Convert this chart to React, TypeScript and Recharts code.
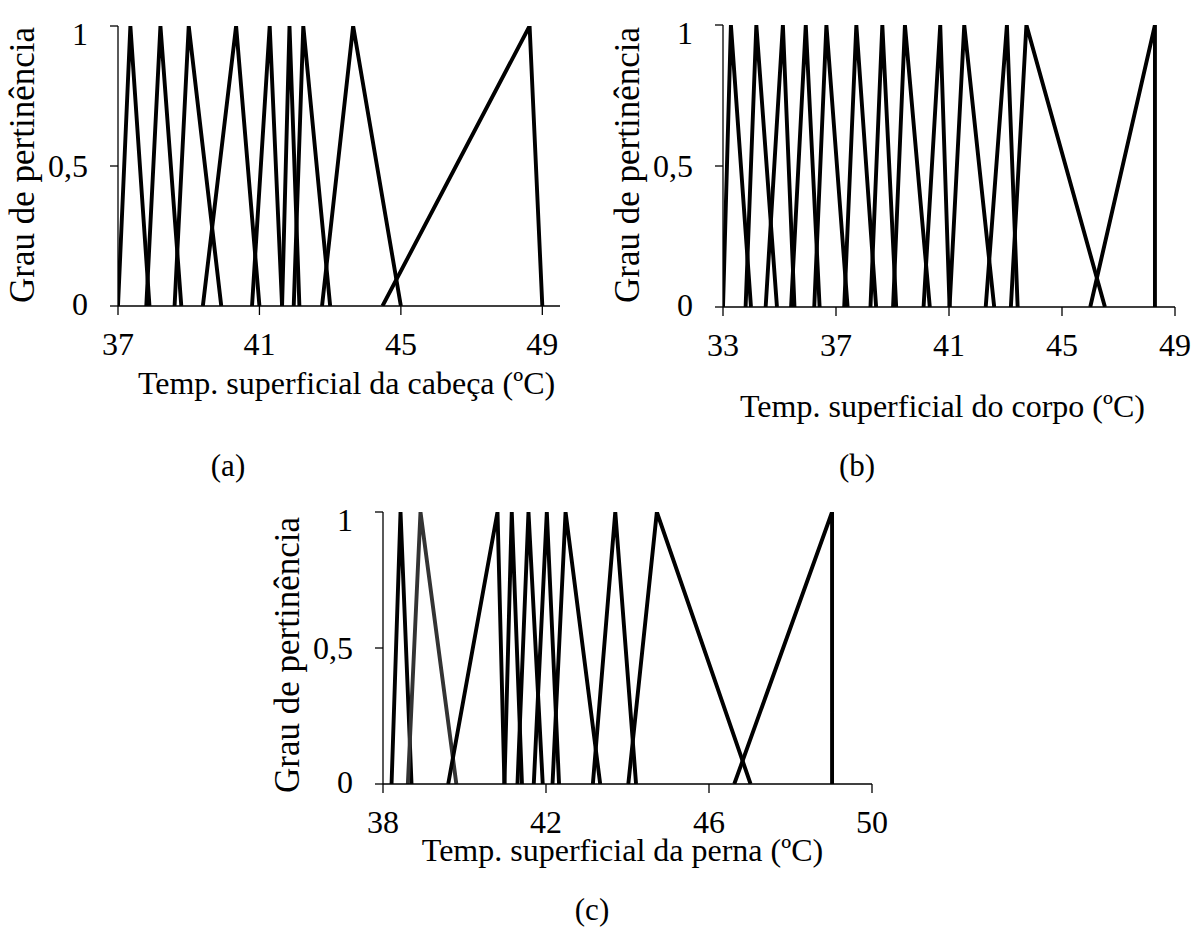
import React from 'react';
import { LineChart, Line, XAxis, YAxis } from 'recharts';

// each set is a triangle: [left foot, peak, right foot] in °C
const HEAD_TICKS = [37, 41, 45, 49];
const HEAD_SETS = [
    [37.0, 37.35, 37.89],
    [37.8, 38.2, 38.79],
    [38.6, 39.0, 39.92],
    [39.4, 40.34, 41.0],
    [40.79, 41.29, 41.64],
    [41.64, 41.85, 42.13],
    [41.97, 42.24, 43.0],
    [42.77, 43.65, 45.0],
    [44.48, 48.64, 49.0],
];

const BODY_TICKS = [33, 37, 41, 45, 49];
const BODY_SETS = [
    [33.0, 33.28, 33.99],
    [33.8, 34.18, 34.91],
    [34.51, 35.12, 35.53],
    [35.41, 35.93, 36.42],
    [36.23, 36.66, 37.41],
    [37.29, 37.72, 38.42],
    [38.22, 38.64, 39.13],
    [39.02, 39.44, 40.32],
    [40.1, 40.69, 41.02],
    [41.02, 41.54, 42.6],
    [42.3, 43.05, 43.43],
    [43.19, 43.74, 46.52],
    [46.0, 48.29, 48.29],
];

const LEG_TICKS = [38, 42, 46, 50];
const LEG_SETS = [
    [38.21, 38.43, 38.7],
    [38.61, 38.92, 39.8],
    [39.6, 40.81, 40.98],
    [40.98, 41.16, 41.41],
    [41.3, 41.57, 41.92],
    [41.7, 42.02, 42.32],
    [42.16, 42.48, 43.33],
    [43.15, 43.7, 44.21],
    [44.02, 44.72, 47.02],
    [46.62, 49.02, 49.02],
];

const Y_TICKS = [0, 0.5, 1];
const Y_TITLE = 'Grau de pertinência';

const FONT = '"Liberation Serif", "Times New Roman", serif';

const toPoints = (s: number[]) => [
    { x: s[0], y: 0 },
    { x: s[1], y: 1 },
    { x: s[2], y: 0 },
];

const XTick = (props: any) => {
    const { x, y, payload } = props;
    return (
        <text x={x} y={y + 38} textAnchor="middle" fontSize={32} fontFamily={FONT} fill="#000">
            {payload.value}
        </text>
    );
};

const YTick = (props: any) => {
    const { x, y, payload } = props;
    const shift = payload.value === 1 ? 8 : payload.value === 0 ? -2 : 0;
    return (
        <text x={x} y={y + 11 + shift} textAnchor="end" fontSize={32} fontFamily={FONT} fill="#000">
            {String(payload.value).replace('.', ',')}
        </text>
    );
};

interface PanelProps {
    sets: number[][];
    ticks: number[];
    domain: [number, number];
    plot: { x: number; y: number; w: number; h: number };
    greyIndex?: number;
}

const Panel: React.FC<PanelProps> = ({ sets, ticks, domain, plot, greyIndex }) => {
    const yW = 110;
    const top = 20;
    const right = 16;
    const xH = 60;
    return (
        <div style={{ position: 'absolute', left: plot.x - yW, top: plot.y - top }}>
            <LineChart
                width={yW + plot.w + right}
                height={top + plot.h + xH}
                margin={{ top, right, left: 0, bottom: 0 }}
            >
                <XAxis
                    type="number"
                    dataKey="x"
                    domain={domain}
                    ticks={ticks}
                    interval={0}
                    allowDataOverflow
                    height={xH}
                    tickSize={9}
                    axisLine={{ stroke: '#000', strokeWidth: 1.3 }}
                    tickLine={{ stroke: '#000', strokeWidth: 1.3 }}
                    tick={<XTick />}
                />
                <YAxis
                    type="number"
                    domain={[0, 1]}
                    ticks={Y_TICKS}
                    interval={0}
                    allowDataOverflow
                    width={yW}
                    tickSize={8}
                    tickMargin={22}
                    axisLine={{ stroke: '#000', strokeWidth: 1.3 }}
                    tickLine={{ stroke: '#000', strokeWidth: 1.3 }}
                    tick={<YTick />}
                />
                {sets.map((s, i) => (
                    <Line
                        key={i}
                        data={toPoints(s)}
                        dataKey="y"
                        type="linear"
                        stroke={i === greyIndex ? '#333333' : '#000000'}
                        strokeWidth={3.9}
                        dot={false}
                        activeDot={false}
                        isAnimationActive={false}
                    />
                ))}
            </LineChart>
        </div>
    );
};

const Labels: React.FC = () => (
    <svg
        width={1192}
        height={927}
        style={{ position: 'absolute', left: 0, top: 0, pointerEvents: 'none' }}
        fontFamily={FONT}
        fill="#000"
    >
        <text x={346.5} y={394} fontSize={32} textAnchor="middle">Temp. superficial da cabeça (ºC)</text>
        <text x={942.5} y={417} fontSize={32} textAnchor="middle">Temp. superficial do corpo (ºC)</text>
        <text x={622.5} y={861} fontSize={32} textAnchor="middle">Temp. superficial da perna (ºC)</text>

        <text transform="translate(34,165) rotate(-90)" fontSize={35} textAnchor="middle">{Y_TITLE}</text>
        <text transform="translate(639,165) rotate(-90)" fontSize={35} textAnchor="middle">{Y_TITLE}</text>
        <text transform="translate(299,655) rotate(-90)" fontSize={35} textAnchor="middle">{Y_TITLE}</text>

        <text x={228} y={476} fontSize={31} textAnchor="middle">(a)</text>
        <text x={857} y={476} fontSize={31} textAnchor="middle">(b)</text>
        <text x={592} y={920} fontSize={31} textAnchor="middle">(c)</text>
    </svg>
);

export default function App() {
    return (
        <div
            style={{
                position: 'absolute',
                left: 0,
                top: 0,
                width: 1192,
                height: 927,
                overflow: 'hidden',
                background: '#fff',
            }}
        >
            <Panel sets={HEAD_SETS} ticks={HEAD_TICKS} domain={[37, 49.5]} plot={{ x: 118, y: 26, w: 442, h: 280 }} />
            <Panel sets={BODY_SETS} ticks={BODY_TICKS} domain={[33, 49]} plot={{ x: 723, y: 25, w: 452, h: 282 }} />
            <Panel sets={LEG_SETS} ticks={LEG_TICKS} domain={[38, 50]} plot={{ x: 383, y: 512, w: 489, h: 272 }} greyIndex={1} />
            <Labels />
        </div>
    );
}
